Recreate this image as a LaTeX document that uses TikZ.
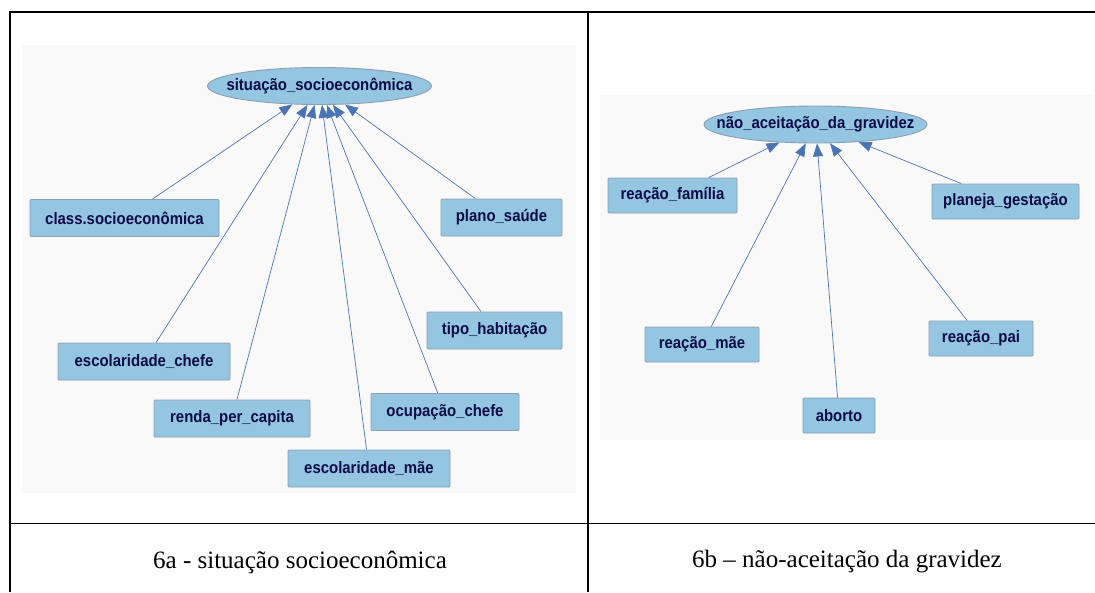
\documentclass[tikz,border=0pt]{standalone}
\usepackage{fontspec}
\setmainfont{Liberation Serif}
\setsansfont{Liberation Sans}
\newfontfamily\diagfont[FakeStretch=0.9]{Liberation Sans}
\usetikzlibrary{shapes.geometric,arrows.meta}
\definecolor{nodeblue}{RGB}{148,198,226}
\definecolor{nodeborder}{RGB}{140,158,178}
\definecolor{navytext}{RGB}{12,12,70}
\definecolor{edgeblue}{RGB}{74,116,180}
\definecolor{panelbg}{RGB}{249,249,249}
\tikzset{
  vbox/.style={rectangle, rounded corners=1pt, fill=nodeblue, draw=nodeborder, line width=0.9pt,
    inner sep=0pt, minimum height=37pt, text=navytext,
    font=\diagfont\bfseries\fontsize{16.6}{18}\selectfont},
  vell/.style={ellipse, fill=nodeblue, draw=nodeborder, line width=0.9pt, inner ysep=0pt,
    inner xsep=-24pt, minimum width=224pt, minimum height=37pt, text=navytext,
    font=\diagfont\bfseries\fontsize{16.6}{18}\selectfont},
  vedge/.style={draw=edgeblue, line width=0.7pt, -{Triangle[length=13pt,width=10pt]}},
  caption/.style={font=\fontsize{25}{28}\selectfont, inner sep=0pt},
  rule/.style={draw=black}
}
\begin{document}
\begin{tikzpicture}[x=1pt,y=-1pt]
\useasboundingbox (0,0) rectangle (1095,592);
\fill[white] (0,0) rectangle (1095,592);
% panel backgrounds
\fill[panelbg] (22,45) rectangle (576,493);
\fill[panelbg] (600,95) rectangle (1093,440);
% table rules
\draw[rule, line width=2pt] (9,12) -- (1095,12);
\draw[rule, line width=2pt] (10,12) -- (10,592);
\draw[rule, line width=1.3pt] (588,12) -- (588,592);
\draw[rule, line width=1pt] (10,523) -- (1095,523);
% left diagram
\node[vell] (sit) at (319.5,86) {situação\_socioeconômica};
\node[vbox, minimum width=189pt] (class) at (124.5,218) {class.socioeconômica};
\node[vbox, minimum width=121pt] (plano) at (501.5,217.5) {plano\_saúde};
\node[vbox, minimum width=135pt] (tipo) at (494.5,330.5) {tipo\_habitação};
\node[vbox, minimum width=172pt] (escc) at (144,361.5) {escolaridade\_chefe};
\node[vbox, minimum width=156pt] (renda) at (232,418.5) {renda\_per\_capita};
\node[vbox, minimum width=148pt] (ocup) at (445,412) {ocupação\_chefe};
\node[vbox, minimum width=162pt] (escm) at (369,468.5) {escolaridade\_mãe};
\foreach \n in {class,plano,tipo,escc,renda,ocup,escm}{
  \draw[vedge] (\n) -- (sit);
}
% right diagram
\node[vell, minimum width=223pt] (nao) at (815.5,124.5) {não\_aceitação\_da\_gravidez};
\node[vbox, minimum width=129pt, minimum height=35pt] (fam) at (672.5,195.5) {reação\_família};
\node[vbox, minimum width=147pt, minimum height=35pt] (plan) at (1005.5,201.5) {planeja\_gestação};
\node[vbox, minimum width=114pt, minimum height=35pt] (rmae) at (702,344.5) {reação\_mãe};
\node[vbox, minimum width=104pt, minimum height=35pt] (rpai) at (981,338.5) {reação\_pai};
\node[vbox, minimum width=72pt, minimum height=35pt] (aborto) at (839,415.5) {aborto};
\foreach \n in {fam,plan,rmae,rpai,aborto}{
  \draw[vedge] (\n) -- (nao);
}
% captions
\node[caption] (capa) at (300,562) {6a - situação socioeconômica};
\node[caption] (capb) at (847,562) {6b – não-aceitação da gravidez};
\end{tikzpicture}
\end{document}
